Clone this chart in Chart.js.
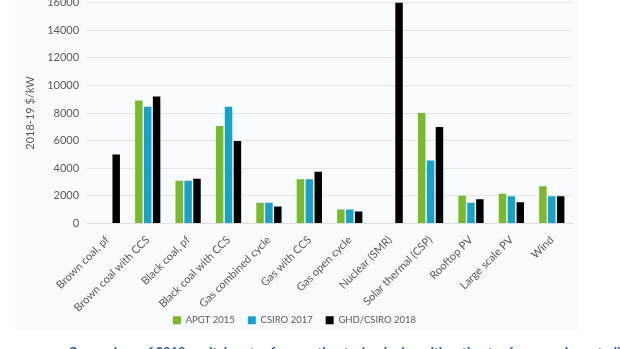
<!DOCTYPE html>
<html>
<head>
<meta charset="utf-8">
<script src="https://cdn.jsdelivr.net/npm/chart.js@4/dist/chart.umd.min.js"></script>
<style>
  html, body { margin: 0; padding: 0; background: #fff; }
  body { width: 620px; height: 349px; overflow: hidden; position: relative; font-family: Lato, sans-serif; }
  #panel { position: absolute; left: 15px; top: 0; width: 563px; height: 330px; background: #f7fbfd; overflow: hidden; }
  #wrap { position: absolute; left: 0; top: -12px; width: 563px; height: 351px; }
  #caption { position: absolute; left: 68px; top: 344px; width: 500px; white-space: nowrap;
             color: #1f5fa0; font: bold 13px Lato, sans-serif; }
</style>
</head>
<body>
<div id="panel"><div id="wrap"><canvas id="chart"></canvas></div></div>
<div id="caption">Comparison of 2018 capital costs of generation technologies with estimates from previous studies</div>
<script>
/* ── Data ───────────────────────────────────────── */
const categories = [
  'Brown coal, pf', 'Brown coal with CCS', 'Black coal, pf', 'Black coal with CCS',
  'Gas combined cycle', 'Gas with CCS', 'Gas open cycle', 'Nuclear (SMR)',
  'Solar thermal (CSP)', 'Rooftop PV', 'Large scale PV', 'Wind'
];
const apgt2015  = [null, 8900, 3100, 7050, 1500, 3200, 1000, null, 8000, 2000, 2150, 2700];
const csiro2017 = [null, 8450, 3100, 8450, 1500, 3200, 1000, null, 4550, 1500, 1970, 1970];
const ghd2018   = [5000, 9200, 3230, 5970, 1230, 3750,  870, 16000, 6980, 1750, 1540, 1970];
const yTicks    = [0, 2000, 4000, 6000, 8000, 10000, 12000, 14000, 16000];

/* ── Styles ─────────────────────────────────────── */
const textColor = '#595959';
const font = { family: 'Lato', size: 11 };

new Chart(document.getElementById('chart'), {
  type: 'bar',
  data: {
    labels: categories,
    datasets: [
      { label: 'APGT 2015',       data: apgt2015,  backgroundColor: '#7ab929' },
      { label: 'CSIRO 2017',      data: csiro2017, backgroundColor: '#17a3c9' },
      { label: 'GHD/CSIRO 2018',  data: ghd2018,   backgroundColor: '#000000' },
    ]
  },
  options: {
    responsive: true,
    maintainAspectRatio: false,
    animation: false,
    layout: { padding: { left: 2, right: 6, top: 0, bottom: 4 } },
    datasets: { bar: { categoryPercentage: 0.66, barPercentage: 0.84 } },
    plugins: {
      tooltip: { enabled: false },
      legend: {
        position: 'bottom',
        labels: { color: textColor, font: { family: 'Lato', size: 9.5 }, boxWidth: 8, boxHeight: 8, padding: 13 }
      }
    },
    scales: {
      x: {
        grid: { display: false, drawTicks: false },
        border: { color: '#dcdfe1' },
        ticks: { color: textColor, font: font, minRotation: 45, maxRotation: 45, padding: 10, autoSkip: false },
        // tighter label band than Chart.js reserves; labels may hang past the box
        afterFit: s => {
          s.paddingLeft = 0; s.paddingRight = 0; s.height -= 22;
          s._computeLabelArea = () => undefined;
        }
      },
      y: {
        min: 0, max: 16000,
        afterBuildTicks: axis => { axis.ticks = yTicks.map(v => ({ value: v })); },
        grid: { color: '#e3e6e8', drawTicks: false },
        border: { display: false },
        ticks: { color: textColor, font: font, padding: 8, callback: v => String(v) },
        title: { display: true, text: '2018-19 $/kW', color: textColor, font: font, padding: { top: 7, bottom: 2 } }
      }
    }
  }
});
</script>
</body>
</html>
